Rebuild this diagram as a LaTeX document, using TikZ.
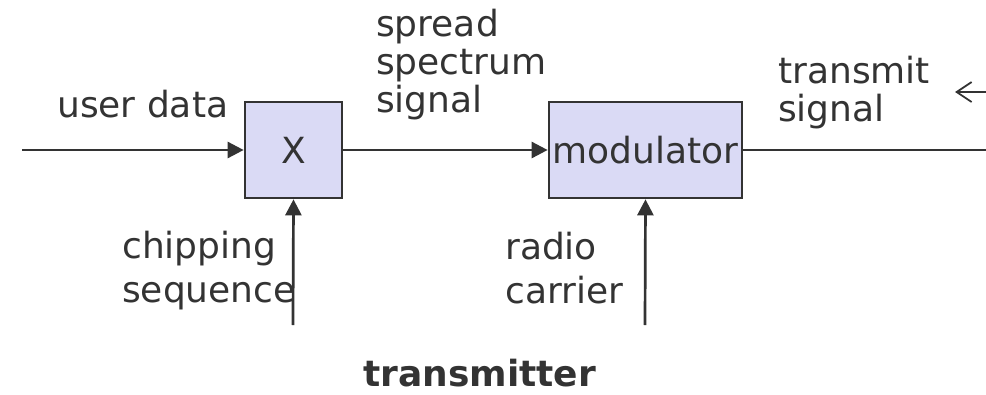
\documentclass[tikz,border=0pt]{standalone}
\usepackage{fontspec}
\setmainfont{DejaVu Sans}
\usetikzlibrary{arrows.meta}
\definecolor{ink}{HTML}{333333}
\definecolor{boxfill}{HTML}{DADAF5}

\begin{document}
\begin{tikzpicture}[x=1pt,y=1pt,yscale=-1,xscale=1,
  ink/.style={draw=ink,line width=2.7pt},
  blockbox/.style={ink,fill=boxfill,inner sep=0pt,minimum height=96pt,text=ink,font=\fontsize{36}{40}\selectfont},
  lbl/.style={text=ink,inner sep=0pt,align=left,anchor=base west},
  flow/.style={ink,-{Triangle[length=16pt,width=16pt]}}]

\useasboundingbox (0,0) rectangle (986,394);

% blocks
\node[blockbox,minimum width=97pt] (mult) at (293.5,150) {X};
\node[blockbox,minimum width=193pt] (mod) at (645.5,150) {modulator};

% free ends
\coordinate (in) at (22,150);
\coordinate (out) at (986,150);
\coordinate (chip) at (293,325);
\coordinate (carrier) at (645,325);
\coordinate (edge) at (990,92);
\coordinate (back) at (955,92);

\draw[flow] (in) -- (mult.west);
\draw[flow] (mult.east) -- (mod.west);
\draw[ink] (mod.east) -- (out);
\draw[flow] (chip) -- (mult.south);
\draw[flow] (carrier) -- (mod.south);
\draw[ink,line width=1.8pt,-{Straight Barb[length=15pt,width=20pt]}] (edge) -- (back);

% labels (base = last line)
\node[lbl,font=\fontsize{36}{40}\selectfont] (userdata) at (57,117) {user data};
\node[lbl,font=\fontsize{36}{38}\selectfont] (spread) at (376,112) {spread\\spectrum\\signal};
\node[lbl,font=\fontsize{36}{38}\selectfont] (transmit) at (778,121) {transmit\\signal};
\node[lbl,font=\fontsize{36}{44}\selectfont] (chipping) at (122,302) {chipping\\sequence};
\node[lbl,font=\fontsize{36}{44}\selectfont] (radio) at (505,303) {radio\\carrier};
\node[lbl,font=\fontsize{36}{40}\selectfont\bfseries] (title) at (363,386) {transmitter};

\end{tikzpicture}
\end{document}
